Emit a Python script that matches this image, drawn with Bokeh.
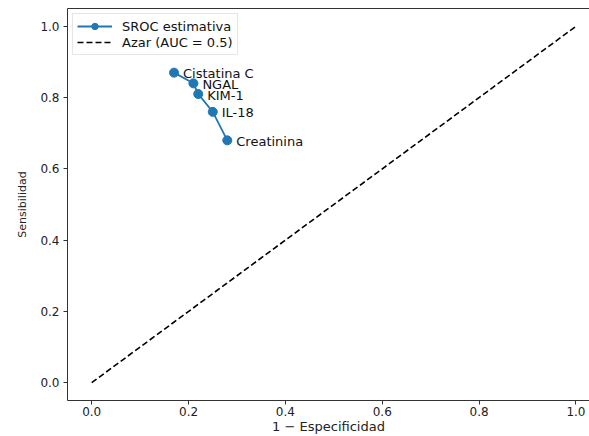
from bokeh.plotting import figure
from bokeh.models import Range1d, LinearAxis, FixedTicker, Legend, LegendItem, ColumnDataSource
from bokeh.core.properties import value
from bokeh.embed import file_html
from bokeh.resources import INLINE

# Data
biomarkers = ["Cistatina C", "NGAL", "KIM-1", "IL-18", "Creatinina"]
fpr = [0.17, 0.21, 0.22, 0.25, 0.28]          # 1 - Especificidad
tpr = [0.87, 0.84, 0.81, 0.76, 0.68]          # Sensibilidad
chance_x = [0.0, 1.0]
chance_y = [0.0, 1.0]
tick_values = [0.0, 0.2, 0.4, 0.6, 0.8, 1.0]
tick_labels = ["0.0", "0.2", "0.4", "0.6", "0.8", "1.0"]

FONT = "DejaVu Sans"
BLUE = "#1f77b4"

p = figure(width=589, height=436, output_backend="svg", toolbar_location=None,
           x_range=Range1d(-0.05, 1.028), y_range=Range1d(-0.05, 1.05),
           x_axis_label="1 \u2212 Especificidad", y_axis_label="Sensibilidad",
           min_border_left=67, min_border_top=8, min_border_right=0, min_border_bottom=0)
p.outline_line_color = None
p.xgrid.visible = False
p.ygrid.visible = False
p.background_fill_color = "white"

src = ColumnDataSource(dict(x=fpr, y=tpr, name=biomarkers))
r_line = p.line("x", "y", source=src, line_color=BLUE, line_width=1.8)
r_pts = p.scatter("x", "y", source=src, size=9, fill_color=BLUE, line_color=BLUE)
r_chance = p.line(chance_x, chance_y, line_color="black", line_width=1.6, line_dash="6 3")

p.text("x", "y", text="name", source=src, x_offset=9, y_offset=1,
       text_font=value(FONT), text_font_size="13px", text_color="#111111",
       text_baseline="alphabetic", text_align="left")

for ax in (p.xaxis[0], p.yaxis[0]):
    ax.ticker = FixedTicker(ticks=tick_values)
    ax.major_label_overrides = {v: l for v, l in zip(tick_values, tick_labels)}
    ax.minor_tick_line_color = None
    ax.major_tick_in = 0
    ax.major_tick_out = 4
    ax.axis_line_color = "#333333"
    ax.major_tick_line_color = "#333333"
    ax.major_label_text_font = FONT
    ax.major_label_text_font_size = "12px"
    ax.major_label_text_color = "#222222"
    ax.axis_label_text_font = FONT
    ax.axis_label_text_font_style = "normal"
    ax.axis_label_text_color = "#222222"
    ax.major_label_standoff = 4

p.xaxis[0].axis_label_text_font_size = "13px"
p.xaxis[0].major_label_standoff = 2
p.xaxis[0].axis_label_standoff = 0
p.yaxis[0].axis_label_text_font_size = "11px"
p.yaxis[0].axis_label_standoff = 8

top = LinearAxis(ticker=FixedTicker(ticks=[]), major_label_text_font_size="0px",
                 axis_line_color="#333333", major_tick_line_color=None,
                 minor_tick_line_color=None)
p.add_layout(top, "above")

legend = Legend(items=[LegendItem(label="SROC estimativa", renderers=[r_line, r_pts]),
                       LegendItem(label="Azar (AUC = 0.5)", renderers=[r_chance])],
                location="top_left", margin=5, padding=4, spacing=0,
                glyph_width=35, glyph_height=16, label_height=16, label_standoff=10,
                label_text_font=FONT, label_text_font_size="13px", label_text_color="#111111",
                border_line_color="#cccccc", border_line_width=1,
                background_fill_alpha=0.8)
p.add_layout(legend, "center")

open("out.html", "w").write(file_html(p, INLINE))
